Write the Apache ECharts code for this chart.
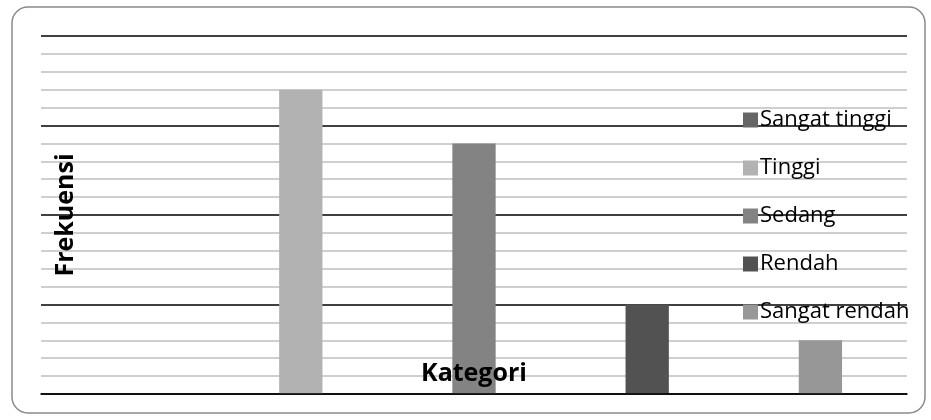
<!DOCTYPE html>
<html>
<head>
<meta charset="utf-8">
<script src="https://cdn.jsdelivr.net/npm/echarts@6/dist/echarts.min.js"></script>
<style>
  html, body { margin: 0; padding: 0; background: #fff; }
  #chart { width: 931px; height: 420px; }
</style>
</head>
<body>
<div id="chart"></div>
<script>
var categories = ['Sangat tinggi', 'Tinggi', 'Sedang', 'Rendah', 'Sangat rendah'];
var values = [0, 17, 14, 5, 3];
var colors = ['#666666', '#b2b2b2', '#838383', '#525252', '#979797'];

// one series per category so the legend lists them; stacked to keep bars centred
var series = categories.map((name, i) => {
    var data = categories.map((c, j) => j === i ? values[i] : '-');
    return {
        name: name,
        type: 'bar',
        stack: 'all',
        barWidth: '25%',
        data: data,
        itemStyle: { color: colors[i] },
        silent: true
    };
});

var chart = echarts.init(document.getElementById('chart'));
chart.setOption({
    animation: false,
    textStyle: { fontFamily: 'Open Sans' },
    graphic: [{
        type: 'rect',
        shape: { x: 12, y: 7, width: 913, height: 406, r: 16 },
        style: { fill: 'none', stroke: '#8a8a8a', lineWidth: 1.5 },
        z: -1
    }],
    grid: { left: 41, right: 24, top: 36, bottom: 26 },
    legend: {
        orient: 'vertical',
        left: 738,
        top: 104,
        itemGap: 26,
        itemWidth: 15,
        itemHeight: 15,
        icon: 'rect',
        data: categories,
        textStyle: { fontSize: 22, color: '#000', fontFamily: 'Open Sans', padding: [0, 0, 0, -3] }
    },
    xAxis: {
        type: 'category',
        data: categories,
        z: 5,
        name: 'Kategori',
        nameLocation: 'middle',
        nameGap: -33,
        nameTextStyle: { fontSize: 25, fontWeight: 'bold', color: '#000' },
        axisLine: { show: true, lineStyle: { color: '#000', width: 1.5 } },
        axisTick: { show: false },
        axisLabel: { show: false }
    },
    yAxis: {
        type: 'value',
        min: 0,
        max: 20,
        interval: 5,
        name: 'Frekuensi',
        nameLocation: 'middle',
        nameGap: -37,
        nameTextStyle: { fontSize: 25, fontWeight: 'bold', color: '#000' },
        axisLine: { show: false },
        axisTick: { show: false },
        axisLabel: { show: false },
        splitLine: { show: true, lineStyle: { color: '#000', width: 1.5 } },
        minorTick: { show: false, splitNumber: 5 },
        minorSplitLine: { show: true, lineStyle: { color: '#c0c0c0', width: 1.5 } }
    },
    series: series
});
</script>
</body>
</html>
